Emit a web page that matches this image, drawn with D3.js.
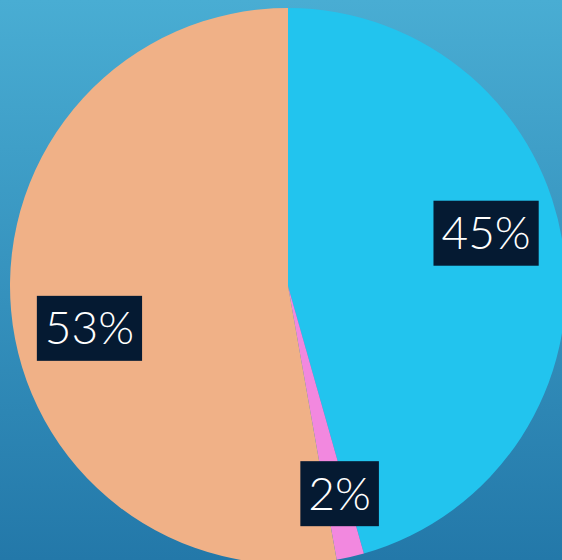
<!DOCTYPE html>
<html>
<head>
<meta charset="utf-8">
<script src="https://cdn.jsdelivr.net/npm/d3@7"></script>
<style>
  html, body { margin: 0; padding: 0; overflow: hidden; }
  svg { display: block; }
</style>
</head>
<body>
<div id="chart"></div>
<script>
const categories = ['A', 'B', 'C'];
const values = [45.6, 1.6, 52.8];
const labels = ['45%', '2%', '53%'];
const colors = ['#22c4ee', '#f288df', '#f0b187'];

const width = 562;
const height = 560;
const radius = 278;
const cx = 288;
const cy = 286;
// label nudges (degrees) to sit where the original placed them
const labelTurn = [-7, -1, -7];
const labelRadius = [205, 214, 203];

const svg = d3.select('#chart')
  .append('svg')
    .attr('width', width)
    .attr('height', height);

const grad = svg.append('defs')
  .append('linearGradient')
    .attr('id', 'bg')
    .attr('x1', '0%').attr('y1', '0%')
    .attr('x2', '0%').attr('y2', '100%');
grad.append('stop').attr('offset', '0%').attr('stop-color', '#49add3');
grad.append('stop').attr('offset', '100%').attr('stop-color', '#2378a9');

svg.append('rect')
  .attr('width', width)
  .attr('height', height)
  .attr('fill', 'url(#bg)');

const data = categories.map((c, i) => ({ cat: c, value: values[i], label: labels[i], i }));

const pie = d3.pie()
  .value(d => d.value)
  .sort(null);

const arc = d3.arc()
  .innerRadius(0)
  .outerRadius(radius);

const g = svg.append('g')
  .attr('transform', `translate(${cx}, ${cy})`);

const arcs = pie(data);

g.selectAll('path')
  .data(arcs)
  .enter()
  .append('path')
    .attr('d', arc)
    .attr('fill', d => colors[d.data.i]);

// labels
const labelPos = d => {
  const a = (d.startAngle + d.endAngle) / 2 + labelTurn[d.data.i] * Math.PI / 180;
  const r = labelRadius[d.data.i];
  return [r * Math.sin(a), -r * Math.cos(a)];
};

const lab = g.selectAll('.lab')
  .data(arcs)
  .enter()
  .append('g')
    .attr('class', 'lab')
    .attr('transform', d => `translate(${labelPos(d)})`);

lab.append('rect')
  .attr('fill', '#051a32');

const texts = lab.append('text')
  .attr('text-anchor', 'middle')
  .attr('dy', '0.35em')
  .attr('fill', '#ffffff')
  .style('font-family', 'Lato, "Noto Sans", sans-serif')
  .style('font-weight', 300)
  .style('font-size', '46px')
  .text(d => d.data.label);

texts.each(function () {
  const w = this.getComputedTextLength();
  d3.select(this.previousSibling)
    .attr('x', -w / 2 - 8)
    .attr('y', -32.5)
    .attr('width', w + 16)
    .attr('height', 65);
});
</script>
</body>
</html>
